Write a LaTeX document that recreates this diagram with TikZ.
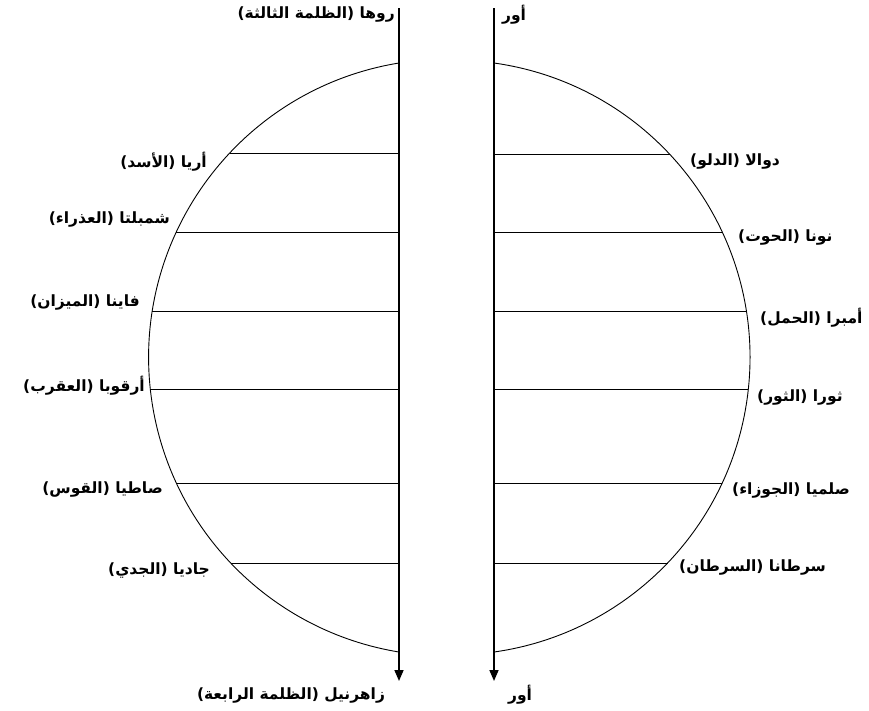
\documentclass[tikz,border=0pt]{standalone}
\usepackage{fontspec}
\newfontfamily\arabicfont[Script=Arabic]{DejaVu Sans}
\TeXXeTstate=1
\usetikzlibrary{arrows.meta}
\newcommand\artxt[1]{{\arabicfont\beginR #1\endR}}
\begin{document}
\begin{tikzpicture}[x=1pt,y=-1pt,
  lab/.style={font=\arabicfont\bfseries\fontsize{15.5}{18}\selectfont, inner sep=0pt},
  axis/.style={line width=1.6pt},
  rim/.style={line width=0.9pt},
  rung/.style={line width=0.6pt},
  tip/.style={-{Triangle[width=9pt,length=11pt]}}]
\useasboundingbox (0,0) rectangle (869,710);
% axes
\coordinate (Lt) at (399,8); \coordinate (Lb) at (399,681);
\coordinate (Rt) at (494,8); \coordinate (Rb) at (494,681);
\draw[axis,tip] (Lt) -- (Lb);
\draw[axis,tip] (Rt) -- (Rb);
% rims
\coordinate (La) at (399,63); \coordinate (Ra) at (494,63);
\draw[rim] (La) arc[start angle=260.74, end angle=99.26, radius=298.4];
\draw[rim] (Ra) arc[start angle=-82, end angle=82, radius=297.4];
% left rungs
\draw[rung] (229.7,153) -- (399,153);
\draw[rung] (176.3,232) -- (399,232);
\draw[rung] (152.2,311) -- (399,311);
\draw[rung] (150.3,389) -- (399,389);
\draw[rung] (176.3,483) -- (399,483);
\draw[rung] (230.6,563) -- (399,563);
% right rungs
\draw[rung] (494,154) -- (669.5,154);
\draw[rung] (494,232) -- (722.2,232);
\draw[rung] (494,311) -- (746.3,311);
\draw[rung] (494,389) -- (748.3,389);
\draw[rung] (494,483) -- (722.2,483);
\draw[rung] (494,563) -- (667.6,563);
% top and bottom labels
\node[lab,anchor=east] (top1) at (395,15) {\artxt{روها (الظلمة الثالثة)}};
\node[lab] (top2) at (514,15) {\artxt{أور}};
\node[lab] (bot1) at (291,695) {\artxt{زاهرنيل (الظلمة الرابعة)}};
\node[lab] (bot2) at (520,695) {\artxt{أور}};
% left labels
\node[lab,anchor=east] (l1) at (207,162) {\artxt{أريا (الأسد)}};
\node[lab,anchor=east] (l2) at (170,219) {\artxt{شمبلتا (العذراء)}};
\node[lab,anchor=east] (l3) at (140,302) {\artxt{فاينا (الميزان)}};
\node[lab,anchor=east] (l4) at (145,386) {\artxt{أرقوبا (العقرب)}};
\node[lab,anchor=east] (l5) at (163,489) {\artxt{صاطيا (القوس)}};
\node[lab,anchor=east] (l6) at (210,570) {\artxt{جاديا (الجدي)}};
% right labels
\node[lab,anchor=west] (r1) at (690,161) {\artxt{دوالا (الدلو)}};
\node[lab,anchor=west] (r2) at (738,237) {\artxt{نونا (الحوت)}};
\node[lab,anchor=west] (r3) at (760,318) {\artxt{أمبرا (الحمل)}};
\node[lab,anchor=west] (r4) at (757,397) {\artxt{ثورا (الثور)}};
\node[lab,anchor=west] (r5) at (732,490) {\artxt{صلميا (الجوزاء)}};
\node[lab,anchor=west] (r6) at (679,567) {\artxt{سرطانا (السرطان)}};
\end{tikzpicture}
\end{document}
